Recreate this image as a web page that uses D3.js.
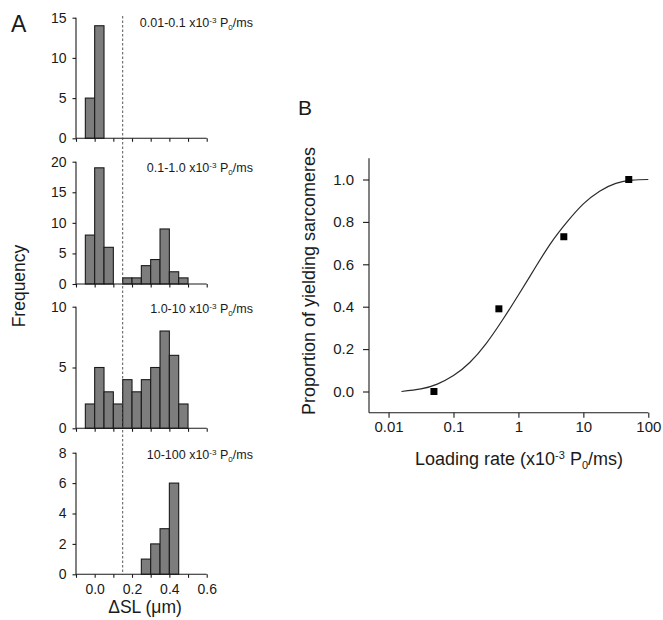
<!DOCTYPE html>
<html>
<head>
<meta charset="utf-8">
<script src="https://cdn.jsdelivr.net/npm/d3@7"></script>
<style>
  html, body { margin: 0; padding: 0; background: #fff; }
  svg { display: block; font-family: "Liberation Sans", Arial, sans-serif; }
</style>
</head>
<body>
<svg id="fig" width="663" height="620"></svg>
<script>
// ---- Panel A: histograms of sarcomere length change, one per loading-rate range
const binStarts = [-0.05, 0, 0.05, 0.1, 0.15, 0.2, 0.25, 0.3, 0.35, 0.4, 0.45];
const binWidth = 0.05;
const countsSlowest = [5, 14, 0, 0, 0, 0, 0, 0, 0, 0, 0];
const countsSlow    = [8, 19, 6, 0, 1, 1, 3, 4, 9, 2, 1];
const countsFast    = [2, 5, 3, 2, 4, 3, 4, 5, 8, 6, 2];
const countsFastest = [0, 0, 0, 0, 0, 0, 1, 2, 3, 6, 0];
const rangeLabels = ["0.01-0.1", "0.1-1.0", "1.0-10", "10-100"];
const yMaxA = [15, 20, 10, 8];
const yTicksA = [[0, 5, 10, 15], [0, 5, 10, 15, 20], [0, 5, 10], [0, 2, 4, 6, 8]];
const xTicksA = [-0.1, 0, 0.1, 0.2, 0.3, 0.4, 0.5, 0.6];
const xTickLabelsA = [0, 0.2, 0.4, 0.6];
const thresholdSL = 0.15;

// ---- Panel B: proportion of yielding sarcomeres vs loading rate
const loadingRate = [0.05, 0.5, 5, 50];
const yieldingProp = [0.0, 0.39, 0.73, 1.0];
const fitRate = [0.0158, 0.0316, 0.0562, 0.1, 0.178, 0.316, 0.562, 1, 1.78, 3.16, 5.62, 10, 17.8, 31.6, 56.2, 100];
const fitProp = [0.0, 0.012, 0.035, 0.075, 0.137, 0.225, 0.335, 0.455, 0.58, 0.70, 0.80, 0.885, 0.945, 0.982, 0.997, 1.0];
const xTicksB = [0.01, 0.1, 1, 10, 100];
const yTicksB = [0, 0.2, 0.4, 0.6, 0.8, 1.0];

const svg = d3.select("#fig");
const ink = "#1a1a1a";
const FONT = "Liberation Sans, Arial, sans-serif";

// rate annotation with superscript exponent and subscript zero
function rateText(sel, prefix, fs) {
  sel.append("tspan").text(prefix + " x10");
  sel.append("tspan").attr("dy", -4.5).attr("font-size", fs * 0.65).text("-3");
  sel.append("tspan").attr("dy", 4.5).text(" P");
  sel.append("tspan").attr("dy", 3).attr("font-size", fs * 0.65).text("0");
  sel.append("tspan").attr("dy", -3).text("/ms");
}

function styleAxis(a, fs) {
  a.select(".domain").attr("stroke", ink).attr("stroke-width", 1.1);
  a.selectAll(".tick line").attr("stroke", ink).attr("stroke-width", 1.1);
  a.selectAll(".tick text").attr("font-size", fs).attr("fill", ink).attr("font-family", FONT);
}

// ===== Panel A =====
const xA = d3.scaleLinear().domain([-0.1, 0.6]).range([76, 206.7]);
const panelTops = [17.7, 161.7, 306.7, 452.7];
const panelBottoms = [138.3, 284, 428.3, 574.3];
const labelBaselines = [27, 172, 313, 459];
const allCounts = [countsSlowest, countsSlow, countsFast, countsFastest];

allCounts.forEach((counts, i) => {
  const y = d3.scaleLinear().domain([0, yMaxA[i]]).range([panelBottoms[i], panelTops[i]]);
  const g = svg.append("g");

  g.selectAll("rect.bar")
    .data(binStarts.map((b, k) => ({ b, c: counts[k] })).filter(d => d.c > 0))
    .join("rect")
    .attr("class", "bar")
    .attr("x", d => xA(d.b))
    .attr("width", d => xA(d.b + binWidth) - xA(d.b))
    .attr("y", d => y(d.c))
    .attr("height", d => y(0) - y(d.c))
    .attr("fill", "#7d7d7d")
    .attr("stroke", ink)
    .attr("stroke-width", 1.1);

  // y axis
  const ya = g.append("g").attr("transform", `translate(${xA(-0.1)},0)`)
    .call(d3.axisLeft(y).tickValues(yTicksA[i]).tickSize(3.5).tickPadding(6).tickFormat(d3.format("d")));
  styleAxis(ya, 14);
  ya.select(".domain").attr("d", `M0,${y(0)}V${y(yMaxA[i])}`);

  // x axis
  const xa = g.append("g").attr("transform", `translate(0,${y(0)})`)
    .call(d3.axisBottom(xA).tickValues(xTicksA).tickSize(3.5).tickPadding(6)
      .tickFormat(d => (i === 3 && xTickLabelsA.some(v => Math.abs(v - d) < 1e-9)) ? d3.format(".1f")(d) : ""));
  styleAxis(xa, 14);
  xa.select(".domain").attr("d", `M${xA(-0.1)},0H${xA(0.6)}`);

  const t = g.append("text").attr("x", 253).attr("y", labelBaselines[i])
    .attr("text-anchor", "end").attr("font-size", 12.5).attr("fill", ink);
  rateText(t, rangeLabels[i], 12.5);
});

// threshold line across all histograms
svg.append("line")
  .attr("x1", xA(thresholdSL)).attr("x2", xA(thresholdSL))
  .attr("y1", 16).attr("y2", 575)
  .attr("stroke", "#444").attr("stroke-width", 0.9).attr("stroke-dasharray", "2.5,2");

svg.append("text").attr("x", 11).attr("y", 32).attr("font-size", 23).attr("fill", ink).text("A");
svg.append("text").attr("transform", "translate(25,286) rotate(-90)")
  .attr("text-anchor", "middle").attr("font-size", 17.5).attr("fill", ink).text("Frequency");
svg.append("text").attr("x", 145).attr("y", 613).attr("text-anchor", "middle")
  .attr("font-size", 17.5).attr("fill", ink).text("\u0394SL (\u03bcm)");

// ===== Panel B =====
const xB = d3.scaleLog().domain([0.005, 100]).range([369, 648.3]);
const yB = d3.scaleLinear().domain([-0.1, 1.1]).range([412.7, 158.3]);
const gB = svg.append("g");

const yaB = gB.append("g").attr("transform", `translate(${xB(0.005)},0)`)
  .call(d3.axisLeft(yB).tickValues(yTicksB).tickSize(6).tickPadding(9).tickFormat(d3.format(".1f")));
styleAxis(yaB, 15);
yaB.select(".domain").attr("d", `M0,${yB(-0.1)}V${yB(1.1)}`);

const xaB = gB.append("g").attr("transform", `translate(0,${yB(-0.1)})`)
  .call(d3.axisBottom(xB).tickValues(xTicksB).tickSize(5).tickPadding(4).tickFormat(d => String(d)));
styleAxis(xaB, 15);
xaB.select(".domain").attr("d", `M${xB(0.005)},0H${xB(100)}`);

// fitted curve
const fitLine = d3.line().x(d => xB(d[0])).y(d => yB(d[1])).curve(d3.curveNatural);
gB.append("path")
  .attr("d", fitLine(fitRate.map((r, k) => [r, fitProp[k]])))
  .attr("fill", "none").attr("stroke", "#2a2a2a").attr("stroke-width", 1.2);

// measured points
const sq = 7;
gB.selectAll("rect.pt")
  .data(loadingRate.map((r, k) => [r, yieldingProp[k]]))
  .join("rect").attr("class", "pt")
  .attr("x", d => xB(d[0]) - sq / 2).attr("y", d => yB(d[1]) - sq / 2)
  .attr("width", sq).attr("height", sq).attr("fill", "#000");

svg.append("text").attr("x", 298).attr("y", 115).attr("font-size", 21).attr("fill", ink).text("B");
svg.append("text").attr("transform", "translate(315,281) rotate(-90)")
  .attr("text-anchor", "middle").attr("font-size", 18).attr("fill", ink)
  .text("Proportion of yielding sarcomeres");
const xl = svg.append("text").attr("x", 519).attr("y", 465).attr("text-anchor", "middle")
  .attr("font-size", 18).attr("fill", ink);
xl.append("tspan").text("Loading rate (x10");
xl.append("tspan").attr("dy", -6.5).attr("font-size", 11).text("-3");
xl.append("tspan").attr("dy", 6.5).text(" P");
xl.append("tspan").attr("dy", 4).attr("font-size", 11).text("0");
xl.append("tspan").attr("dy", -4).text("/ms)");
</script>
</body>
</html>
